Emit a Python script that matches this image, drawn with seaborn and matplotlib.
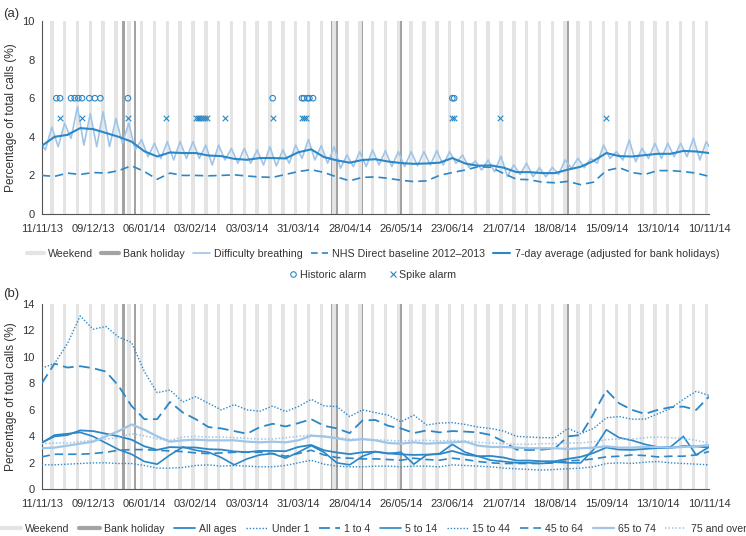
import numpy as np
import pandas as pd
import matplotlib
matplotlib.use("Agg")
import matplotlib.pyplot as plt
import seaborn as sns
from matplotlib.lines import Line2D

# days counted from 11/11/13 (a Monday)
week_days = np.arange(0, 365, 7)
tick_days = np.arange(0, 365, 28)
tick_labels = ["11/11/13", "09/12/13", "06/01/14", "03/02/14", "03/03/14", "31/03/14", "28/04/14",
               "26/05/14", "23/06/14", "21/07/14", "18/08/14", "15/09/14", "13/10/14", "10/11/14"]
saturdays = np.arange(5, 364, 7)
bank_holidays = [44, 45, 51, 158, 161, 175, 196, 287]

# (a) difficulty breathing, read weekly (mid-week low / weekend high)
breath_trough = [3.32, 3.49, 3.92, 3.57, 3.49, 3.49, 3.66, 3.32, 2.97, 2.88,
                 2.8, 2.88, 2.88, 2.54, 2.8, 2.63, 2.63, 2.54, 2.49, 2.63,
                 2.88, 2.8, 2.63, 2.37, 2.46, 2.46, 2.54, 2.46, 2.46, 2.5,
                 2.54, 2.54, 2.63, 2.42, 2.28, 2.19, 1.95, 2.05, 1.93, 1.93,
                 2.05, 2.37, 2.4, 2.63, 2.88, 2.8, 2.71, 2.88, 2.88, 2.97,
                 2.97, 2.8]
breath_peak = [4.5, 4.7, 5.56, 5.2, 5.3, 4.95, 4.7, 3.85, 3.66, 3.75,
               3.75, 3.75, 3.57, 3.57, 3.4, 3.4, 3.32, 3.49, 3.32, 3.57,
               3.87, 3.54, 3.49, 3.06, 3.23, 3.32, 3.28, 3.23, 3.23, 3.23,
               3.28, 3.23, 3.06, 2.75, 2.8, 3.0, 2.54, 2.63, 2.4, 2.42,
               2.8, 2.88, 2.88, 3.57, 3.23, 3.83, 3.4, 3.66, 3.66, 3.66,
               3.92, 3.75]
breath_start, breath_end = 3.6, 3.5

avg_7day = [3.53, 4.0, 4.1, 4.45, 4.4, 4.2, 4.0, 3.75, 3.25, 2.98,
            3.19, 3.16, 3.16, 3.03, 3.0, 2.86, 2.81, 2.9, 2.9, 2.88,
            3.2, 3.35, 2.95, 2.78, 2.66, 2.8, 2.84, 2.72, 2.64, 2.6,
            2.62, 2.66, 2.9, 2.62, 2.5, 2.52, 2.4, 2.17, 2.17, 2.12,
            2.12, 2.3, 2.45, 2.75, 3.16, 3.0, 2.98, 3.05, 3.12, 3.12,
            3.27, 3.24, 3.16]
baseline = [2.0, 1.95, 2.12, 2.05, 2.15, 2.12, 2.25, 2.5, 2.2, 1.8,
            2.12, 2.0, 2.0, 1.98, 2.0, 2.03, 1.97, 1.92, 1.9, 2.05,
            2.2, 2.3, 2.15, 1.92, 1.72, 1.9, 1.92, 1.85, 1.75, 1.68,
            1.72, 2.0, 2.15, 2.28, 2.45, 2.42, 2.1, 1.8, 1.78, 1.65,
            1.62, 1.69, 1.52, 1.65, 2.25, 2.4, 2.15, 2.05, 2.25, 2.25,
            2.2, 2.12, 1.95]
historic_alarm_days = [8, 10, 16, 18, 20, 22, 26, 29, 32, 47, 126, 142, 143, 145, 146, 148, 224, 225]
spike_alarm_days = [10, 22, 47, 68, 84, 85, 86, 87, 88, 89, 90, 100, 126, 142, 143, 144, 224, 225, 250, 308]

# (b) 7-day averages by age group
all_ages = avg_7day
under_1 = [9.15, 9.5, 11.0, 13.1, 12.1, 12.3, 11.5, 11.1, 8.9, 7.3,
           7.5, 6.6, 7.0, 6.5, 6.0, 6.4, 6.0, 5.9, 6.3, 5.87,
           6.25, 6.8, 6.3, 6.25, 5.5, 6.0, 5.8, 5.6, 5.1, 5.6,
           4.86, 5.0, 5.04, 4.9, 4.7, 4.6, 4.4, 4.0, 3.95, 3.9,
           3.9, 4.6, 4.2, 4.6, 5.4, 5.5, 5.3, 5.3, 5.7, 6.1,
           6.8, 7.4, 7.1]
one_to_4 = [8.0, 9.5, 9.2, 9.3, 9.15, 8.9, 7.8, 6.3, 5.3, 5.3,
            6.6, 5.8, 5.3, 4.7, 4.6, 4.4, 4.2, 4.7, 4.95, 4.75,
            5.0, 5.3, 4.8, 4.6, 4.25, 5.2, 5.24, 4.8, 4.6, 4.25,
            4.45, 4.3, 4.4, 4.36, 4.3, 4.1, 3.6, 3.0, 2.97, 3.0,
            3.1, 4.0, 4.1, 5.7, 7.5, 6.5, 6.0, 5.7, 6.0, 6.2,
            6.25, 6.0, 7.0]
five_to_14 = [3.5, 4.1, 4.2, 4.3, 4.0, 3.5, 3.0, 2.65, 2.1, 1.9,
              2.6, 3.2, 2.95, 2.8, 2.4, 1.85, 2.3, 2.6, 2.7, 2.35,
              2.8, 3.3, 2.8, 2.0, 1.85, 2.5, 2.85, 2.7, 2.8, 1.9,
              2.6, 2.7, 3.4, 2.8, 2.5, 2.2, 2.1, 2.0, 2.0, 1.95,
              2.05, 2.0, 2.0, 3.0, 4.5, 3.9, 3.7, 3.4, 3.2, 3.2,
              4.0, 2.6, 3.2]
fifteen_to_44 = [1.85, 1.85, 1.9, 1.95, 2.0, 2.0, 1.95, 1.95, 1.8, 1.6,
                 1.6, 1.65, 1.8, 1.85, 1.75, 1.8, 1.75, 1.7, 1.7, 1.8,
                 2.0, 2.2, 1.9, 1.75, 1.7, 1.7, 1.75, 1.75, 1.7, 1.75,
                 1.75, 1.7, 1.85, 1.8, 1.75, 1.7, 1.6, 1.55, 1.5, 1.45,
                 1.5, 1.55, 1.6, 1.7, 1.95, 2.0, 1.95, 2.05, 2.1, 2.0,
                 1.95, 1.9, 1.85]
fortyfive_to_64 = [2.45, 2.65, 2.65, 2.65, 2.7, 2.8, 2.95, 3.0, 3.0, 2.95,
                   2.9, 2.85, 2.75, 2.7, 2.75, 2.8, 2.8, 2.8, 2.7, 2.5,
                   2.7, 2.95, 2.6, 2.4, 2.35, 2.3, 2.3, 2.25, 2.2, 2.35,
                   2.25, 2.2, 2.35, 2.25, 2.1, 2.0, 1.95, 1.95, 1.95, 1.95,
                   2.0, 2.15, 2.2, 2.3, 2.45, 2.5, 2.6, 2.55, 2.45, 2.5,
                   2.5, 2.6, 2.85]
sixtyfive_to_74 = [3.1, 3.15, 3.3, 3.45, 3.6, 4.0, 4.4, 4.9, 4.5, 4.0,
                   3.6, 3.7, 3.75, 3.7, 3.7, 3.7, 3.6, 3.55, 3.6, 3.55,
                   3.7, 4.05, 4.0, 3.85, 3.7, 3.8, 3.7, 3.5, 3.45, 3.55,
                   3.45, 3.5, 3.55, 3.6, 3.3, 3.2, 3.2, 3.15, 3.1, 3.1,
                   3.1, 3.05, 3.1, 3.15, 3.25, 3.15, 3.15, 3.2, 3.2, 3.15,
                   3.2, 3.25, 3.35]
seventyfive_over = [3.45, 3.5, 3.5, 3.6, 3.7, 3.8, 3.9, 4.2, 4.05, 3.8,
                    3.7, 3.95, 4.0, 3.95, 3.95, 3.9, 3.85, 3.8, 3.8, 3.9,
                    4.0, 4.1, 3.95, 3.9, 3.8, 3.75, 3.75, 3.7, 3.65, 3.7,
                    3.7, 3.65, 3.7, 3.65, 3.55, 3.5, 3.45, 3.4, 3.4, 3.45,
                    3.45, 3.5, 3.5, 3.6, 3.75, 3.8, 3.8, 3.9, 3.95, 3.9,
                    3.85, 3.7, 3.5]

BLUE = "#2a87c8"
LIGHT = "#9fc5e8"
WEEKEND = "#e4e4e4"
BANK = "#a3a3a3"
AXIS = "#555555"

sns.set_theme(style="white")
plt.rcParams['font.family'] = ['Liberation Sans', 'DejaVu Sans']

# interleave low/high daily points for the breathing line
trough_x = np.arange(2, 364, 7)
peak_x = np.arange(5.5, 364, 7)
bx = [0] + [v for pair in zip(trough_x, peak_x) for v in pair] + [364]
by = [breath_start] + [v for pair in zip(breath_trough, breath_peak) for v in pair] + [breath_end]
breathing = pd.DataFrame({"day": bx, "pct": by})

fig = plt.figure(figsize=(7.46, 5.36), dpi=100)
ax1 = fig.add_axes([0.0559, 0.6007, 0.8945, 0.3601])
ax2 = fig.add_axes([0.0559, 0.0871, 0.8945, 0.3457])


def style_axis(ax, ymax):
    for d in saturdays:
        ax.axvspan(d - 0.45, d + 1.45, color=WEEKEND, lw=0, zorder=0)
    for d in bank_holidays:
        ax.axvspan(d - 0.45, d + 0.45, color=BANK, lw=0, zorder=0.5)
    ax.set_xlim(0, 364)
    ax.set_ylim(0, ymax)
    ax.set_xticks(tick_days)
    ax.set_xticklabels(tick_labels)
    ax.set_yticks(np.arange(0, ymax + 1, 2))
    ax.tick_params(direction="out", length=3, width=0.8, color=AXIS,
                   labelsize=8, labelcolor="#333333", pad=2)
    ax.tick_params(axis="x", pad=4)
    for s in ["top", "right"]:
        ax.spines[s].set_visible(False)
    for s in ["left", "bottom"]:
        ax.spines[s].set_color(AXIS)
        ax.spines[s].set_linewidth(0.8)
    ax.set_xlabel("")
    ax.set_ylabel("Percentage of total calls (%)", fontsize=8.6, color="#333333", labelpad=4)


# ---- panel (a)
sns.lineplot(data=breathing, x="day", y="pct", ax=ax1, color=LIGHT, lw=1.2, zorder=2)
sns.lineplot(x=week_days, y=baseline, ax=ax1, color=BLUE, lw=1.2, dashes=False,
             linestyle=(0, (5, 3)), zorder=3)
sns.lineplot(x=week_days, y=avg_7day, ax=ax1, color=BLUE, lw=1.5, zorder=4)
sns.scatterplot(x=historic_alarm_days, y=[6] * len(historic_alarm_days), ax=ax1, marker="o",
                s=16, facecolor="none", edgecolor=BLUE, linewidth=0.8, zorder=5)
sns.scatterplot(x=spike_alarm_days, y=[5] * len(spike_alarm_days), ax=ax1, marker="x",
                s=16, color=BLUE, linewidth=0.8, zorder=5)
style_axis(ax1, 10)

# ---- panel (b)
groups = [
    (all_ages, BLUE, "-", 1.3),
    (under_1, BLUE, (0, (1, 1.3)), 1.0),
    (one_to_4, BLUE, (0, (6, 3)), 1.3),
    (five_to_14, BLUE, "-", 1.2),
    (fifteen_to_44, BLUE, (0, (1, 1.3)), 1.0),
    (fortyfive_to_64, BLUE, (0, (5, 3)), 1.2),
    (sixtyfive_to_74, LIGHT, "-", 1.6),
    (seventyfive_over, LIGHT, (0, (1, 1.3)), 1.1),
]
for vals, col, ls, lw in groups:
    sns.lineplot(x=week_days, y=vals, ax=ax2, color=col, lw=lw, linestyle=ls, zorder=3)
style_axis(ax2, 14)

fig.text(0.004, 0.985, "(a)", fontsize=9.5, color="#333333", va="top")
fig.text(0.004, 0.462, "(b)", fontsize=9.5, color="#333333", va="top")

# ---- legends
h_a = [Line2D([], [], color=WEEKEND, lw=3),
       Line2D([], [], color=BANK, lw=3),
       Line2D([], [], color=LIGHT, lw=1.2),
       Line2D([], [], color=BLUE, lw=1.2, ls=(0, (4, 2.5))),
       Line2D([], [], color=BLUE, lw=1.5)]
l_a = ["Weekend", "Bank holiday", "Difficulty breathing",
       "NHS Direct baseline 2012\u20132013", "7-day average (adjusted for bank holidays)"]
fig.legend(h_a, l_a, loc="center", bbox_to_anchor=(0.5, 0.526), ncol=5, frameon=False,
           fontsize=7.7, handlelength=1.6, handletextpad=0.4, columnspacing=0.75,
           labelcolor="#333333")
h_m = [Line2D([], [], marker="o", ls="none", mfc="none", mec=BLUE, ms=4, mew=0.8),
       Line2D([], [], marker="x", ls="none", color=BLUE, ms=4, mew=0.8)]
fig.legend(h_m, ["Historic alarm", "Spike alarm"], loc="center", bbox_to_anchor=(0.5, 0.487),
           ncol=2, frameon=False, fontsize=7.7, handlelength=0.6, handletextpad=0.3,
           columnspacing=2.2, labelcolor="#333333")

h_b = [Line2D([], [], color=WEEKEND, lw=3),
       Line2D([], [], color=BANK, lw=3)]
for vals, col, ls, lw in groups:
    h_b.append(Line2D([], [], color=col, lw=lw, ls=ls))
l_b = ["Weekend", "Bank holiday", "All ages", "Under 1", "1 to 4", "5 to 14",
       "15 to 44", "45 to 64", "65 to 74", "75 and over"]
fig.legend(h_b, l_b, loc="center", bbox_to_anchor=(0.5, 0.013), ncol=10, frameon=False,
           fontsize=7.6, handlelength=2.0, handletextpad=0.4, columnspacing=0.9,
           labelcolor="#333333")

fig.savefig("out.png", dpi=100)
